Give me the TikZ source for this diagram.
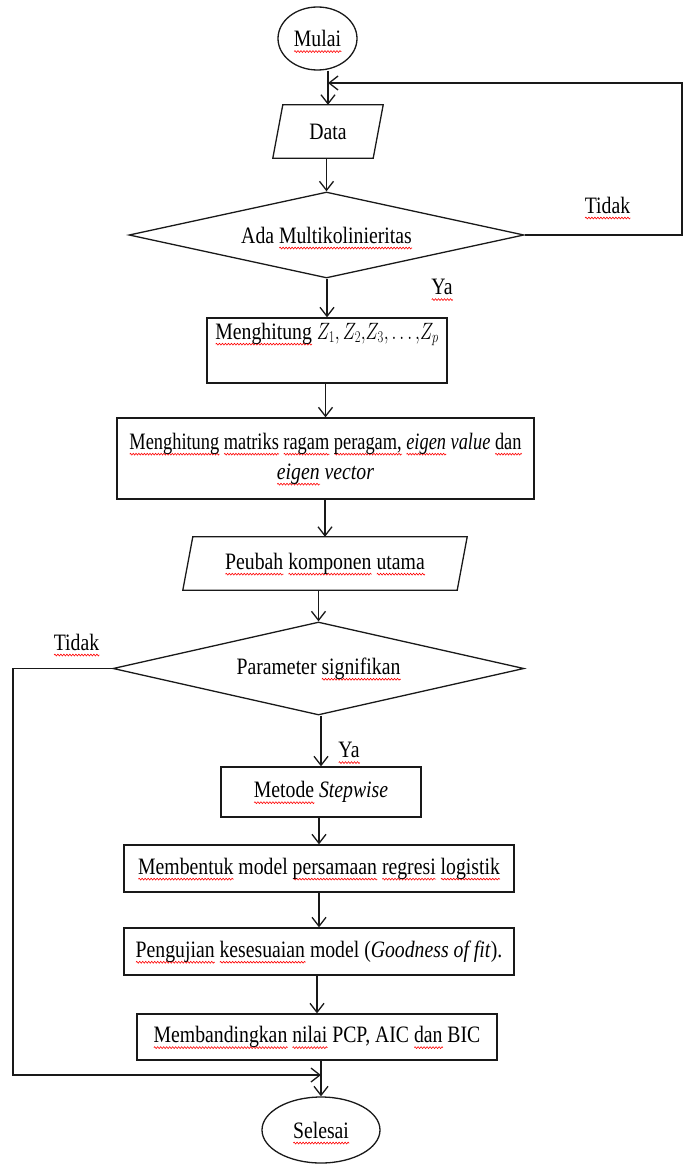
\documentclass[tikz,border=0pt]{standalone}
\usepackage{fontspec}
\setmainfont{Liberation Serif}[FakeStretch=0.84]
\usepackage{graphicx}
\usetikzlibrary{arrows.meta,shapes.geometric,decorations.pathmorphing}
\newsavebox\wvbox
\newcommand\wv[1]{\sbox\wvbox{#1}\leavevmode\rlap{\smash{\tikz[baseline=0pt]\draw[red,line width=0.6pt,decorate,decoration={zigzag,amplitude=0.9pt,segment length=3pt}] (0pt,-5pt) -- (\the\wd\wvbox,-5pt);}}\usebox\wvbox}
\begin{document}
\begin{tikzpicture}[x=1pt,y=-1pt,
  every node/.style={font=\fontsize{23.5}{30}\selectfont},
  ln/.style={draw=black!90, line width=1.3pt},
  arr/.style={ln, -{Straight Barb[length=9pt,width=14pt]}},
  box/.style={ln, rectangle, inner sep=0pt, align=center},
  term/.style={ln, ellipse, inner sep=0pt},
  dec/.style={ln, diamond, inner sep=0pt, aspect=4.5},
  io/.style={rectangle, inner sep=0pt, align=center},
  lbl/.style={inner sep=0pt}]
\useasboundingbox (0,0) rectangle (683,1164);

\node[term, minimum width=79pt, minimum height=63pt] (mulai) at (317.5,38.5) {\wv{Mulai}};
\node[io, minimum width=110pt, minimum height=53pt] (data) at (328,131.5) {Data};
\draw[ln] ([xshift=10pt]data.north west) -- (data.north east) -- ([xshift=-10pt]data.south east) -- (data.south west) -- cycle;
\node[dec, minimum width=395pt, minimum height=86pt] (ada) at (326.5,235) {Ada \wv{Multikolinieritas}};
\node[box, minimum width=240pt, minimum height=65pt] (z) at (327,350.5) {\wv{Menghitung} \scalebox{0.72}[0.95]{$Z_1, Z_2{,}Z_3{,}\ldots{,}Z_p$}\\ \strut};
\node[box, minimum width=417pt, minimum height=81pt] (mat) at (325.5,458.5) {\scalebox{0.93}[1]{\wv{Menghitung} \wv{matriks} \wv{ragam} \wv{peragam,} \wv{\textit{eigen}} \textit{value} \wv{dan}}\\ \wv{\textit{eigen}} \textit{vector}};
\node[io, minimum width=284pt, minimum height=53pt] (pc) at (325,563.5) {\wv{Peubah} \wv{komponen} \wv{utama}};
\draw[ln] ([xshift=10pt]pc.north west) -- (pc.north east) -- ([xshift=-10pt]pc.south east) -- (pc.south west) -- cycle;
\node[dec, minimum width=411pt, minimum height=93pt] (par) at (318.5,668.5) {Parameter \wv{signifikan}};
\node[box, minimum width=200pt, minimum height=50pt] (sw) at (321,792) {\wv{Metode} \textit{Stepwise}};
\node[box, minimum width=390pt, minimum height=47pt] (reg) at (319,868.5) {\wv{Membentuk} model \wv{persamaan} \wv{regresi} \wv{logistik}};
\node[box, minimum width=390pt, minimum height=47pt] (gof) at (319,951.5) {\wv{Pengujian} \wv{kesesuaian} model (\textit{Goodness of fit}).};
\node[box, minimum width=360pt, minimum height=46pt] (cmp) at (317,1037) {\wv{Membandingkan} \wv{nilai} PCP, AIC \wv{dan} BIC};
\node[term, minimum width=118pt, minimum height=66pt] (end) at (321,1130) {\wv{Selesai}};

\node[lbl] (t1) at (607.5,205) {\wv{Tidak}};
\node[lbl] (y1) at (442,287) {\wv{Ya}};
\node[lbl] (t2) at (76.5,642) {\wv{Tidak}};
\node[lbl] (y2) at (349,750) {\wv{Ya}};

\coordinate (rt) at (682,83);
\coordinate (lb) at (13,1075);

\draw[arr] (data.north |- mulai.south) -- (data.north);
\draw[arr] (ada.north |- data.south) -- (ada.north);
\draw[arr] (z.north |- ada.south) -- (z.north);
\draw[arr] (mat.north |- z.south) -- (mat.north);
\draw[arr] (pc.north |- mat.south) -- (pc.north);
\draw[arr] (par.north |- pc.south) -- (par.north);
\draw[arr] (sw.north |- par.south) -- (sw.north);
\draw[arr] (reg.north |- sw.south) -- (reg.north);
\draw[arr] (gof.north |- reg.south) -- (gof.north);
\draw[arr] (cmp.north |- gof.south) -- (cmp.north);
\draw[arr] (end.north |- cmp.south) -- (end.north);
\draw[arr] (ada.east) -| (rt) -- (data.north |- rt);
\draw[arr] (par.west) -| (lb) -- (end.north |- lb);
\end{tikzpicture}
\end{document}
